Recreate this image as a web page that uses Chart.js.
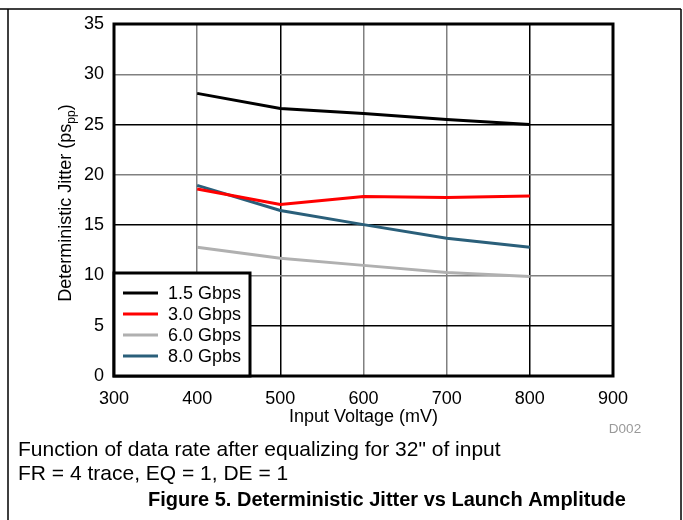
<!DOCTYPE html>
<html>
<head>
<meta charset="utf-8">
<script src="https://cdn.jsdelivr.net/npm/chart.js@4"></script>
<style>
  html, body { margin: 0; padding: 0; background: #fff; }
  #wrap { width: 683px; height: 520px; position: relative; }
</style>
</head>
<body>
<div id="wrap"><canvas id="chart" width="683" height="520"></canvas></div>
<script>
// input voltage (mV)
const voltages = [400, 500, 600, 700, 800];

const seriesNames = ["1.5 Gbps", "3.0 Gbps", "6.0 Gbps", "8.0 Gpbs"];
const jitter15 = [28.1, 26.6, 26.1, 25.5, 25.0];
const jitter30 = [18.6, 17.05, 17.85, 17.75, 17.9];
const jitter60 = [12.8, 11.7, 11.0, 10.3, 9.9];
const jitter80 = [18.95, 16.45, 15.05, 13.7, 12.8];

const xTicks = [300, 400, 500, 600, 700, 800, 900];
const yTicks = [0, 5, 10, 15, 20, 25, 30, 35];

const colors = ["#000000", "#ff0000", "#b0b0b0", "#2a5f7a"];
const FONT = "'Liberation Sans', Arial, sans-serif";

Chart.defaults.font.family = FONT;
Chart.defaults.color = "#000";

const ctx = document.getElementById("chart");

const data = {
    datasets: [jitter15, jitter30, jitter60, jitter80].map((vals, i) => ({
        label: seriesNames[i],
        data: vals.map((v, j) => ({ x: voltages[j], y: v })),
        borderColor: colors[i],
        borderWidth: 3,
        pointRadius: 0,
        fill: false,
        tension: 0,
    })),
};

// extra drawing: frame, border, axis titles, legend box, captions
const extras = {
    id: "extras",
    afterDraw(chart) {
        const c = chart.ctx;
        const a = chart.chartArea;
        c.save();

        // outer frame
        c.strokeStyle = "#000";
        c.lineWidth = 1.5;
        c.beginPath();
        c.moveTo(0, 9);
        c.lineTo(681, 9);
        c.moveTo(8, 9);
        c.lineTo(8, 520);
        c.moveTo(681, 9);
        c.lineTo(681, 520);
        c.stroke();

        // plot border
        c.lineWidth = 3;
        c.strokeRect(a.left, a.top, a.right - a.left, a.bottom - a.top);

        // legend box
        const lx = a.left, ly = 273, lw = 136, lh = a.bottom - 273;
        c.fillStyle = "#fff";
        c.fillRect(lx, ly, lw, lh);
        c.lineWidth = 3;
        c.strokeRect(lx, ly, lw, lh);
        c.font = "18px " + FONT;
        c.textBaseline = "middle";
        c.textAlign = "left";
        chart.data.datasets.forEach((ds, i) => {
            const y = 293 + i * 21;
            c.strokeStyle = ds.borderColor;
            c.lineWidth = 3;
            c.beginPath();
            c.moveTo(123, y);
            c.lineTo(158, y);
            c.stroke();
            c.fillStyle = "#000";
            c.fillText(ds.label, 168, y + 1);
        });

        // y axis title with subscript
        c.save();
        c.translate(66, 203);
        c.rotate(-Math.PI / 2);
        c.fillStyle = "#000";
        c.textBaseline = "middle";
        const main = "Deterministic Jitter (ps";
        const sub = "pp";
        const end = ")";
        c.font = "18px " + FONT;
        const wMain = c.measureText(main).width;
        const wEnd = c.measureText(end).width;
        c.font = "12px " + FONT;
        const wSub = c.measureText(sub).width;
        let x0 = -(wMain + wSub + wEnd) / 2;
        c.font = "18px " + FONT;
        c.textAlign = "left";
        c.fillText(main, x0, 0);
        c.font = "12px " + FONT;
        c.fillText(sub, x0 + wMain, 6);
        c.font = "18px " + FONT;
        c.fillText(end, x0 + wMain + wSub, 0);
        c.restore();

        // x axis title
        c.fillStyle = "#000";
        c.font = "18px " + FONT;
        c.textAlign = "center";
        c.textBaseline = "middle";
        c.fillText("Input Voltage (mV)", (a.left + a.right) / 2, 417);

        // figure id
        c.fillStyle = "#999";
        c.font = "13.5px " + FONT;
        c.fillText("D002", 625, 429);

        // captions
        c.fillStyle = "#000";
        c.font = "21px " + FONT;
        c.textAlign = "left";
        c.fillText('Function of data rate after equalizing for 32" of input', 18, 450);
        c.fillText("FR = 4 trace, EQ = 1, DE = 1", 18, 474);
        c.font = "bold 20px " + FONT;
        c.textAlign = "center";
        c.fillText("Figure 5. Deterministic Jitter vs Launch Amplitude", 387, 500);

        c.restore();
    },
};

const config = {
    type: "line",
    data: data,
    options: {
        responsive: false,
        animation: false,
        layout: {
            padding: { left: 0, top: 24, right: 70, bottom: 0 },
        },
        scales: {
            x: {
                type: "linear",
                min: 300,
                max: 900,
                afterBuildTicks: (s) => { s.ticks = xTicks.map((v) => ({ value: v })); },
                afterFit: (s) => { s.height = 144; },
                grid: {
                    drawTicks: false,
                    lineWidth: 1.5,
                    color: (g) => (g.tick && (g.tick.value === 500 || g.tick.value === 800) ? "#000" : "#808080"),
                },
                border: { display: false },
                ticks: {
                    padding: 12,
                    font: { size: 18 },
                    color: "#000",
                },
            },
            y: {
                min: 0,
                max: 35,
                afterBuildTicks: (s) => { s.ticks = yTicks.map((v) => ({ value: v })); },
                afterFit: (s) => { s.width = 114; },
                grid: {
                    drawTicks: false,
                    lineWidth: 1.5,
                    color: (g) => (g.tick && g.tick.value % 10 === 0 ? "#808080" : "#000"),
                },
                border: { display: false },
                ticks: {
                    padding: 10,
                    font: { size: 18 },
                    color: "#000",
                },
            },
        },
        plugins: {
            legend: { display: false },
            tooltip: { enabled: false },
        },
    },
    plugins: [extras],
};

const chart = new Chart(ctx, config);
</script>
</body>
</html>
